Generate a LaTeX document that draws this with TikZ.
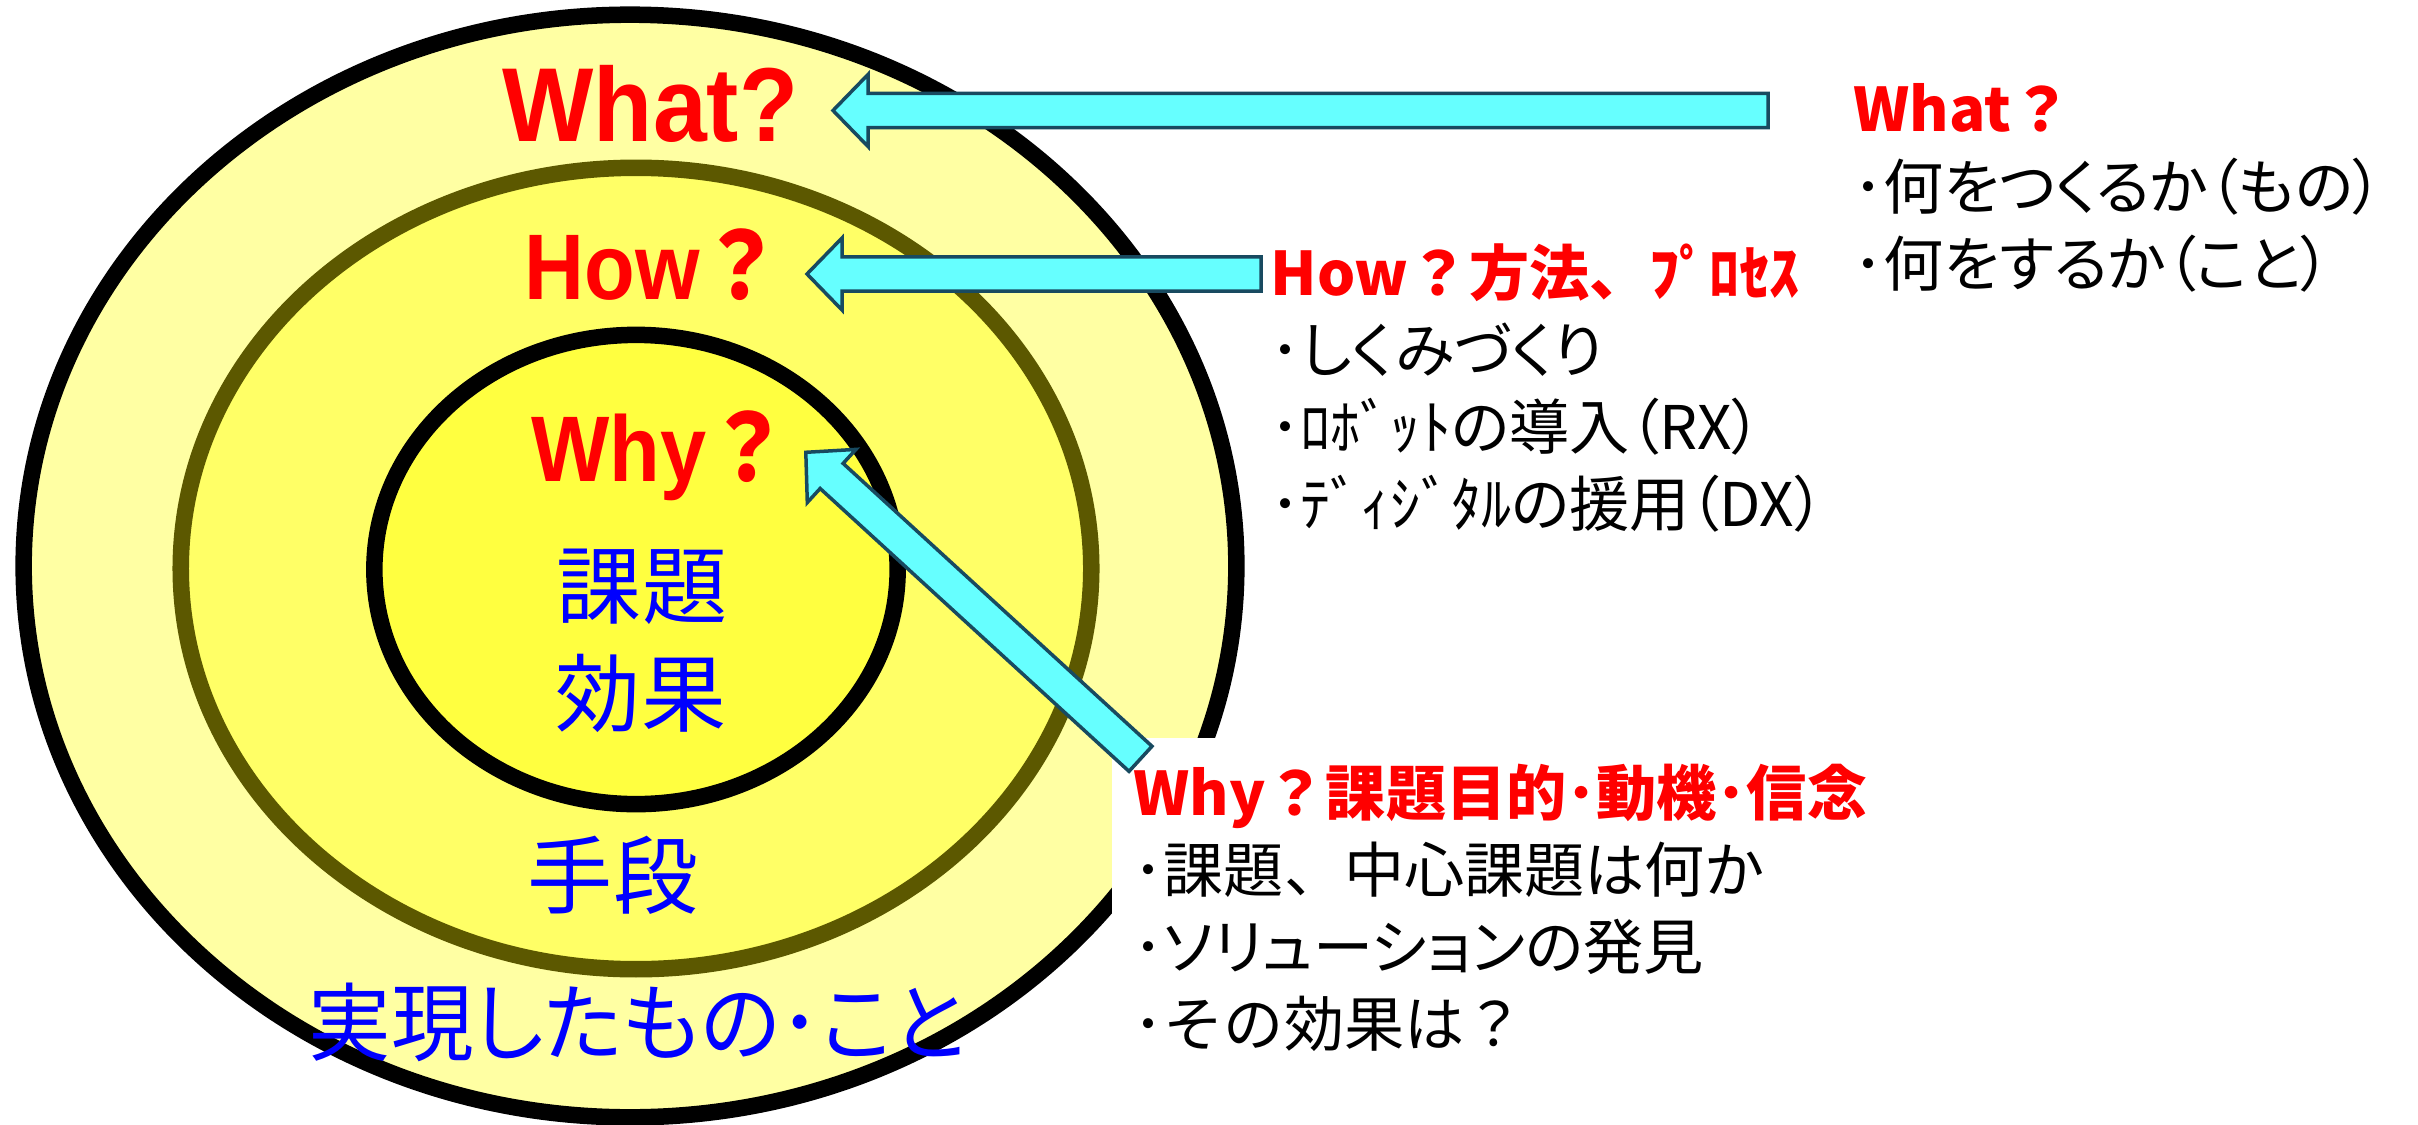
\documentclass[tikz,border=0pt]{standalone}
\usepackage{fontspec}
\setmainfont{Liberation Sans}
\newfontfamily\jp{Noto Sans CJK JP}
\newfontfamily\jpp{Noto Sans CJK JP}[RawFeature=+palt]
\usepackage{xcolor}
\usetikzlibrary{calc}
\definecolor{ringout}{RGB}{255,255,163}
\definecolor{ringmid}{RGB}{255,255,102}
\definecolor{ringin}{RGB}{255,255,64}
\definecolor{ringline}{RGB}{92,88,0}
\definecolor{arrfill}{RGB}{102,255,255}
\definecolor{arrline}{RGB}{24,74,96}
\tikzstyle{ring}=[line width=0.165cm]
\tikzstyle{arrowbox}=[fill=arrfill,draw=arrline,line width=0.035cm,line join=miter]
\tikzstyle{bigq}=[red,anchor=base west,inner sep=0,font=\bfseries\fontsize{26.5}{30}\selectfont,xscale=0.89]
\tikzstyle{inlabel}=[blue,inner sep=0,font=\jp\fontsize{24.2}{28}\selectfont]
\tikzstyle{headtxt}=[red,anchor=base west,inner sep=0,font=\jp\bfseries\fontsize{17.1}{20}\selectfont]
\tikzstyle{itemtxt}=[anchor=base west,inner sep=0,font=\jpp\fontsize{17.1}{20}\selectfont]
\tikzstyle{itemwide}=[itemtxt,font=\jp\fontsize{17.1}{20}\selectfont]
\newcommand\blockArrow[2]{
	\coordinate (tmpH) at ($(#2)!0.35cm!(#1)$);
	\draw[arrowbox] ($(#1)!0.17cm!90:(#2)$) -- ($(tmpH)!0.17cm!-90:(#1)$) -- ($(tmpH)!0.36cm!-90:(#1)$) -- (#2)
	-- ($(tmpH)!0.36cm!90:(#1)$) -- ($(tmpH)!0.17cm!90:(#1)$) -- ($(#1)!0.17cm!-90:(#2)$) -- cycle;
}

\begin{document}
\begin{tikzpicture}[x=0.01cm,y=-0.01cm]
	
	\useasboundingbox (0,0) rectangle (2418,1124);
	\coordinate (Oout) at (630,566);   % outer ring centre
	\coordinate (Omid) at (636,568.5); % middle ring centre
	\coordinate (Oin) at (636,569.5);  % inner ring centre
	\coordinate (whyBox) at (1112,738);
	
	% RINGS
	\draw[ring,fill=ringout] (Oout) ellipse [x radius=6.06cm, y radius=5.51cm];
	\draw[ring,draw=ringline,fill=ringmid] (Omid) ellipse [x radius=4.55cm, y radius=4.005cm];
	\draw[ring,fill=ringin] (Oin) ellipse [x radius=2.615cm, y radius=2.345cm];
	\fill[white] (whyBox) rectangle (2418,1124);
	
	% ARROWS
	\coordinate (whatTail) at (1768,110.5);
	\coordinate (whatTip) at (833,110.5);
	\coordinate (howTail) at (1261,274);
	\coordinate (howTip) at (807,274);
	\coordinate (whyTail) at (1140.5,758.8);
	\coordinate (whyTip) at (805.8,452.3);
	\blockArrow{whatTail}{whatTip}
	\blockArrow{howTail}{howTip}
	\blockArrow{whyTail}{whyTip}
	
	% RING LABELS
	\node[bigq,font=\bfseries\fontsize{29.9}{34}\selectfont,xscale=0.92/0.89] (whatQ) at (502,141.7) {What?};
	\node[bigq] (howQ) at (524,299.3) {How{\jp ？}};
	\node[bigq] (whyQ) at (531,481.7) {Why{\jp ？}};
	\node[inlabel] (kadai) at (642,587) {課題};
	\node[inlabel] (kouka) at (641,693) {効果};
	\node[inlabel] (shudan) at (613,875) {手段};
	\node[inlabel,font=\jpp\fontsize{24.2}{28}\selectfont,xscale=0.97] (jitsugen) at (637,1022) {実現したもの･こと};
	
	% NOTES
	\node[headtxt] (whatT) at (1853,131) {What？};
	\node[itemtxt] (what1) at (1853,209) {･何をつくるか（もの）};
	\node[itemtxt] (what2) at (1853,286) {･何をするか（こと）};
	
	\node[headtxt] (howT) at (1270,295) {How？方法、ﾌﾟﾛｾｽ};
	\node[itemtxt] (how1) at (1270,372) {･しくみづくり};
	\node[itemtxt] (how2) at (1270,449) {･ﾛﾎﾞｯﾄの導入（RX）};
	\node[itemtxt] (how3) at (1270,526) {･ﾃﾞｨｼﾞﾀﾙの援用（DX）};
	
	\node[headtxt] (whyT) at (1133,815) {Why？課題目的･動機･信念};
	\node[itemwide] (why1) at (1133,892) {･課題、中心課題は何か};
	\node[itemtxt] (why2) at (1133,969) {･ソリューションの発見};
	\node[itemwide] (why3) at (1133,1046) {･その効果は？};
	
\end{tikzpicture}
\end{document}
